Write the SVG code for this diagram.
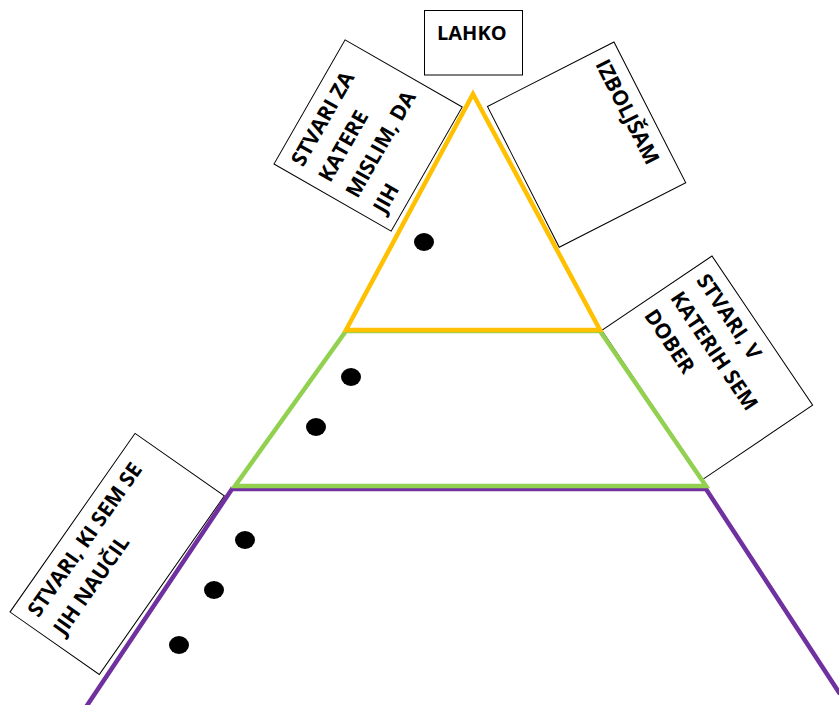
<svg xmlns="http://www.w3.org/2000/svg" width="839" height="705" viewBox="0 0 839 705">
<style>
.box{fill:#fff;stroke:#000;stroke-width:1}
.t{font-family:"Open Sans","Liberation Sans",sans-serif;font-weight:bold;font-size:21px;fill:#000}
.ln{fill:none;stroke-width:4.5;stroke-linejoin:miter}
.dot{fill:#000}
</style>
<rect width="839" height="705" fill="#fff"/>
<g id="lahko">
<rect class="box" x="424.5" y="10.5" width="98" height="64.5"/>
<text class="t" x="437" y="40" style="font-size:20px">LAHKO</text>
</g>
<g id="stvari-za-katere" transform="translate(274,164) rotate(-60.2)">
<rect class="box" x="0" y="0" width="143" height="135"/>
<text class="t" x="11" y="27">STVARI ZA</text>
<text class="t" x="11" y="58.5">KATERE</text>
<text class="t" x="11" y="90">MISLIM, DA</text>
<text class="t" x="11" y="121.5">JIH</text>
</g>
<g id="izboljsam" transform="translate(614,42) rotate(63)">
<rect class="box" x="0" y="0" width="158" height="142"/>
<text class="t" x="11" y="27">IZBOLJŠAM</text>
</g>
<g id="stvari-v-katerih" transform="translate(712,256) rotate(56)">
<rect class="box" x="0" y="0" width="180" height="133"/>
<text class="t" x="11" y="27">STVARI, V</text>
<text class="t" x="11" y="58.5">KATERIH SEM</text>
<text class="t" x="11" y="90">DOBER</text>
</g>
<g id="stvari-ki-sem" transform="translate(10,612) rotate(-55)">
<rect class="box" x="0" y="0" width="218" height="109"/>
<text class="t" x="11" y="27">STVARI, KI SEM SE</text>
<text class="t" x="11" y="58.5">JIH NAUČIL</text>
</g>
<g id="pyramid">
<polyline class="ln" stroke="#7030A0" points="86,707 232,489 706,489 840,694"/>
<polygon class="ln" stroke="#92D050" points="346,331 600,331 706,486 235,486"/>
<polygon class="ln" stroke="#FFC000" points="473,94 600,330 346,330"/>
</g>
<g id="dots">
<ellipse class="dot" cx="424" cy="242" rx="10" ry="9"/>
<ellipse class="dot" cx="351" cy="377" rx="10" ry="9"/>
<ellipse class="dot" cx="316" cy="427" rx="10" ry="9"/>
<ellipse class="dot" cx="245" cy="540" rx="10" ry="9"/>
<ellipse class="dot" cx="214" cy="590" rx="10" ry="9"/>
<ellipse class="dot" cx="179" cy="645" rx="10" ry="9"/>
</g>
</svg>
